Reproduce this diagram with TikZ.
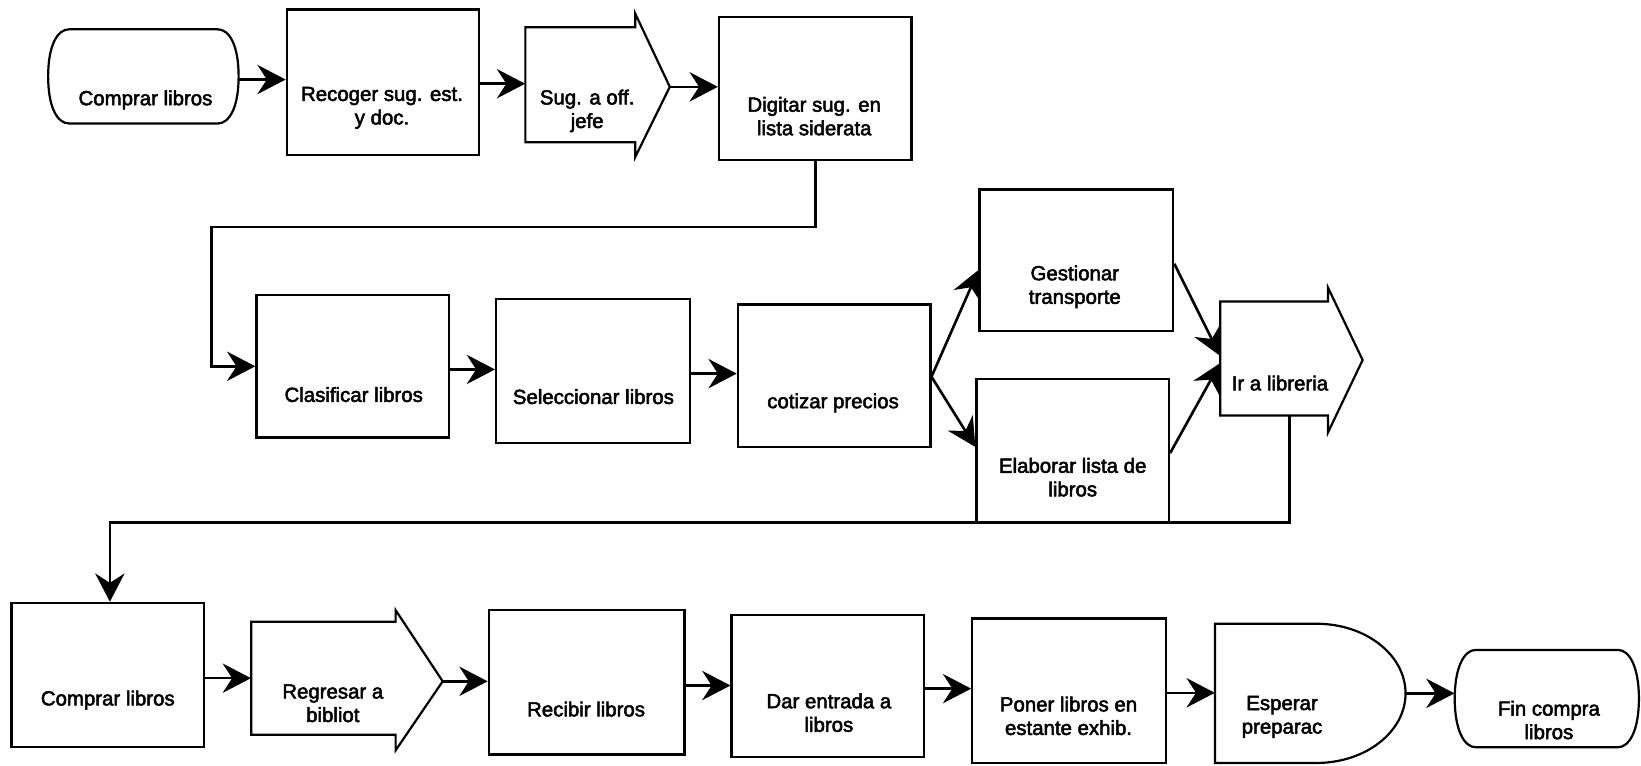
\documentclass[tikz,border=0pt]{standalone}
\usepackage{fontspec}
\setmainfont{Liberation Sans}
\newfontfamily\lblfont{Liberation Sans}[FakeBold=2.5]
\usetikzlibrary{arrows.meta,calc}

% outline of a terminal (start/end) symbol: straight top and bottom, bulging sides
\newcommand\termoutline[4]{% left, top, right, bottom
  \draw[outline] ({#1+20},#2) -- ({#3-20},#2)
    .. controls ({#3-9},#2) and (#3,{(#2+#4)/2-30}) .. (#3,{(#2+#4)/2})
    .. controls (#3,{(#2+#4)/2+30}) and ({#3-9},#4) .. ({#3-20},#4)
    -- ({#1+20},#4)
    .. controls ({#1+9},#4) and (#1,{(#2+#4)/2+30}) .. (#1,{(#2+#4)/2})
    .. controls (#1,{(#2+#4)/2-30}) and ({#1+9},#2) .. cycle;}

\begin{document}
\begin{tikzpicture}[x=1pt,y=-1pt,
  outline/.style={draw=black,line width=2.1pt,line join=miter},
  box/.style={outline,rectangle,inner sep=0pt},
  hitbox/.style={rectangle,inner sep=0pt,draw=none},
  lbl/.style={align=center,font=\lblfont\fontsize{19.5}{22.5}\selectfont,inner sep=0pt},
  wire/.style={draw=black,line width=2.5pt},
  conn/.style={wire,-{Stealth[length=27pt,width=28pt,inset=9pt]}}]

\useasboundingbox (0,0) rectangle (1568,731);

% ---------- first row ----------
\termoutline{46}{28}{228}{118}
\node[hitbox,minimum width=182,minimum height=90] (t1) at (137,73) {};
\node[lbl] at (139,95.5) {Comprar libros};

\node[box,minimum width=184,minimum height=139] (rec) at (366,78.5) {};
\node[lbl] at (365,103) {Recoger sug. est.\\y doc.};

\draw[outline] (502,26) -- (607,26) -- (607,13) -- (640,83) -- (607,150) -- (607,136) -- (502,136) -- cycle;
\node[hitbox,minimum width=105,minimum height=110] (sug) at (554.5,81) {};
\coordinate (sugtip) at (640,83);
\node[lbl] at (561,106) {Sug. a off.\\jefe};

\node[box,minimum width=184,minimum height=137] (dig) at (779,84.5) {};
\node[lbl] at (778,111) {Digitar sug. en\\lista siderata};

% ---------- second row ----------
\node[box,minimum width=184,minimum height=136] (clas) at (337,350) {};
\node[lbl] at (338,377) {Clasificar libros};

\node[box,minimum width=185,minimum height=137] (sel) at (566.5,354.5) {};
\node[lbl] at (567,379) {Seleccionar libros};

\node[box,minimum width=184,minimum height=136] (cot) at (797,359) {};
\node[lbl] at (796,385) {cotizar precios};

\node[box,minimum width=185,minimum height=135] (ges) at (1028.5,248.5) {};
\node[lbl] at (1027,274) {Gestionar\\transporte};

\node[box,minimum width=184,minimum height=138] (ela) at (1025,431) {};
\node[lbl] at (1025,456) {Elaborar lista de\\libros};

\draw[outline] (1166,288) -- (1269,288) -- (1269,275) -- (1302,344) -- (1269,413) -- (1269,397) -- (1166,397) -- cycle;
\node[hitbox,minimum width=103,minimum height=109] (ir) at (1217.5,342.5) {};
\node[lbl] at (1223,366) {Ir a libreria};

% ---------- third row ----------
\node[box,minimum width=184,minimum height=138] (comp) at (103,645) {};
\node[lbl] at (103,669) {Comprar libros};

\draw[outline] (240,594) -- (378,594) -- (378,583) -- (423,651) -- (378,717) -- (378,702) -- (240,702) -- cycle;
\node[hitbox,minimum width=138,minimum height=108] (reg) at (309,648) {};
\coordinate (regtip) at (423,651);
\node[lbl] at (318,672) {Regresar a\\bibliot};

\node[box,minimum width=187,minimum height=138] (reci) at (560.5,652) {};
\node[lbl] at (560,677.5) {Recibir libros};

\node[box,minimum width=184,minimum height=135] (dar) at (791,655.5) {};
\node[lbl] at (792,681) {Dar entrada a\\libros};

\node[box,minimum width=185,minimum height=138] (pon) at (1021.5,660) {};
\node[lbl] at (1021,684) {Poner libros en\\estante exhib.};

% delay symbol
\draw[outline] (1161,596) -- (1258,596)
  .. controls (1305,596) and (1343,625.8) .. (1343,662.5)
  .. controls (1343,699.2) and (1305,729) .. (1258,729)
  -- (1161,729) -- cycle;
\node[hitbox,minimum width=182,minimum height=133] (esp) at (1252,662.5) {};
\node[lbl] at (1225,685) {Esperar\\preparac};

\termoutline{1390}{621}{1566}{714}
\node[hitbox,minimum width=176,minimum height=93] (fin) at (1478,667.5) {};
\node[lbl] at (1480,688) {Fin compra\\libros};

% ---------- connectors ----------
\coordinate (bendA) at (202,217);
\coordinate (bendB) at (105,499);

\draw[conn] (t1.east |- 0,76) -- (rec.west |- 0,76);
\draw[conn] (rec.east |- 0,80) -- (sug.west |- 0,80);
\draw[conn] (sugtip) -- (dig.west |- sugtip);
\draw[conn] (dig.south) |- (bendA) |- (clas.west);

\draw[conn] (clas.east |- 0,353) -- (sel.west |- 0,353);
\draw[conn] (sel.east |- 0,357) -- (cot.west |- 0,357);
\draw[conn] (cot.east |- 0,360) -- (ges.west |- 0,258);
\draw[conn] (cot.east |- 0,360) -- (ela.west |- 0,427);
\draw[conn] (ges.east |- 0,252) -- (ir.west |- 0,340);
\draw[conn] (ela.east |- 0,433) -- (ir.west |- 0,347);

\draw[conn] (ir.south -| 1232,0) |- (bendB) -- (comp.north -| bendB);

\draw[conn] (comp.east |- 0,648) -- (reg.west |- 0,648);
\draw[conn] (regtip) -- (reci.west |- regtip);
\draw[conn] (reci.east |- 0,655) -- (dar.west |- 0,655);
\draw[conn] (dar.east |- 0,658) -- (pon.west |- 0,658);
\draw[conn] (pon.east |- 0,662) -- (esp.west |- 0,662);
\draw[conn] (esp.east) -- (fin.west |- esp.east);

\end{tikzpicture}
\end{document}
